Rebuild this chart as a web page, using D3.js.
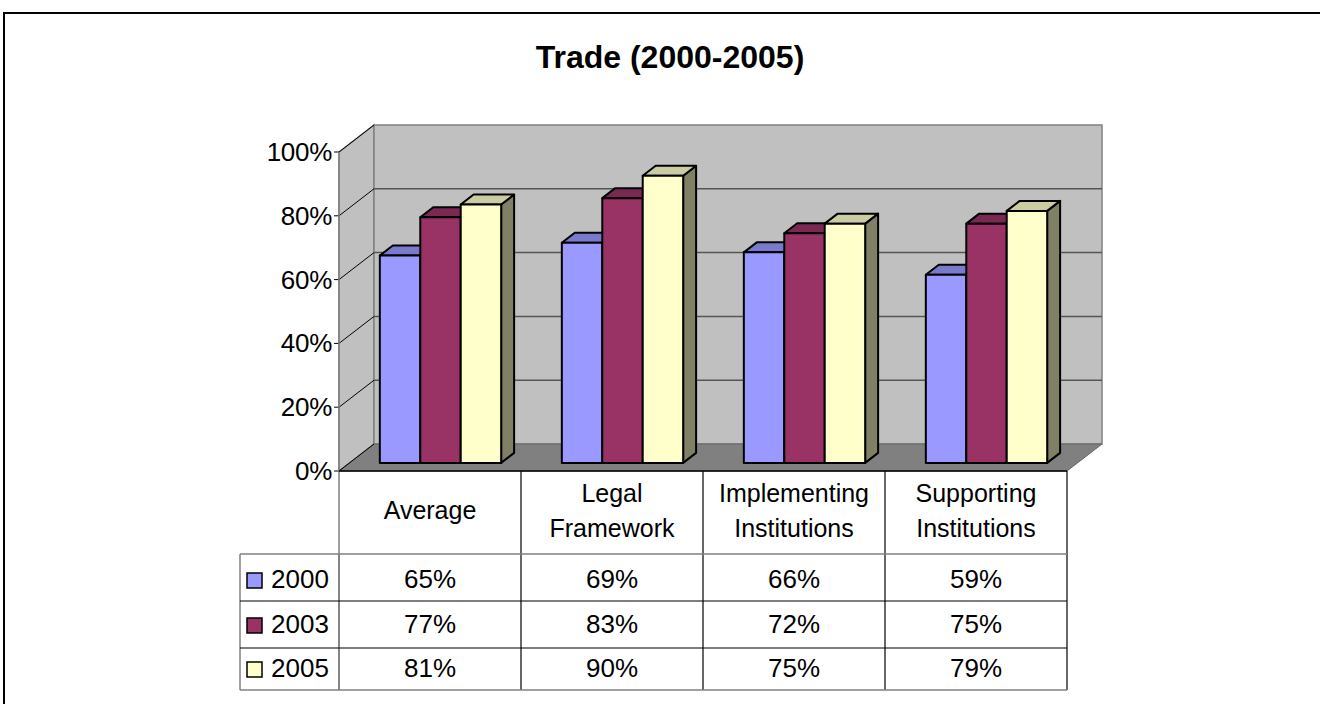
<!DOCTYPE html>
<html>
<head>
<meta charset="utf-8">
<script src="https://cdn.jsdelivr.net/npm/d3@7"></script>
<style>
  body { margin: 0; background: #fff; overflow: hidden; }
  svg text { font-family: Arial, "Liberation Sans", sans-serif; }
</style>
</head>
<body>
<div id="chart"></div>
<script>
// chart data
var categories = [["Average"], ["Legal", "Framework"], ["Implementing", "Institutions"], ["Supporting", "Institutions"]];
var series = ["2000", "2003", "2005"];
var values2000 = [0.65, 0.69, 0.66, 0.59];
var values2003 = [0.77, 0.83, 0.72, 0.75];
var values2005 = [0.81, 0.90, 0.75, 0.79];
var yTicks = [0, 0.2, 0.4, 0.6, 0.8, 1.0];
var colors = ["#9999ff", "#993366", "#ffffcc"];

var allValues = [values2000, values2003, values2005];

var w = 1320, h = 704;
var svg = d3.select("#chart").append("svg")
  .attr("width", w)
  .attr("height", h)
  .style("display", "block");

// outer chart border (right and bottom edges are off the picture)
svg.append("path")
  .attr("d", "M4,710 L4,13 L1330,13")
  .attr("fill", "none")
  .attr("stroke", "#000")
  .attr("stroke-width", 2);

svg.append("text")
  .attr("x", 670)
  .attr("y", 68)
  .attr("text-anchor", "middle")
  .attr("font-size", 32)
  .attr("font-weight", "bold")
  .text("Trade (2000-2005)");

var left = 339, right = 1067;
var depthX = 35, depthY = -27;   // offset of the back wall

var x = d3.scaleBand()
  .domain(d3.range(categories.length))
  .range([left, right]);

var xs = d3.scaleBand()
  .domain(series)
  .range([0, x.bandwidth()])
  .paddingOuter(0.75);

var y = d3.scaleLinear()
  .domain([0, 1])
  .range([471, 152]);

// project a front-plane point to depth d (0 = front, 1 = back wall)
function proj(px, py, d) {
  return [px + depthX * d, py + depthY * d];
}
function poly(pts) {
  return pts.map(function(p) { return p[0] + "," + p[1]; }).join(" ");
}

// walls and floor
svg.append("polygon")
  .attr("points", poly([proj(left, y(0), 0), proj(left, y(1), 0), proj(left, y(1), 1), proj(left, y(0), 1)]))
  .attr("fill", "#c0c0c0")
  .attr("stroke", "#808080")
  .attr("stroke-width", 1.5);

svg.append("polygon")
  .attr("points", poly([proj(left, y(1), 1), proj(right, y(1), 1), proj(right, y(0), 1), proj(left, y(0), 1)]))
  .attr("fill", "#c0c0c0")
  .attr("stroke", "#808080")
  .attr("stroke-width", 1.5);

svg.append("polygon")
  .attr("points", poly([proj(left, y(0), 0), proj(right, y(0), 0), proj(right, y(0), 1), proj(left, y(0), 1)]))
  .attr("fill", "#808080")
  .attr("stroke", "#666")
  .attr("stroke-width", 1);

// gridlines on the back wall and the side wall
yTicks.forEach(function(t) {
  if (t > 0 && t < 1) {
    var a = proj(left, y(t), 1), b = proj(right, y(t), 1);
    svg.append("line")
      .attr("x1", a[0]).attr("y1", a[1])
      .attr("x2", b[0]).attr("y2", b[1])
      .attr("stroke", "#555")
      .attr("stroke-width", 1.5);
  }
  var c = proj(left, y(t), 0), e = proj(left, y(t), 1);
  svg.append("line")
    .attr("x1", c[0]).attr("y1", c[1])
    .attr("x2", e[0]).attr("y2", e[1])
    .attr("stroke", "#000")
    .attr("stroke-width", 1);
  svg.append("line")
    .attr("x1", left - 5).attr("y1", y(t))
    .attr("x2", left).attr("y2", y(t))
    .attr("stroke", "#000")
    .attr("stroke-width", 1);
  svg.append("text")
    .attr("x", left - 7)
    .attr("y", y(t) + 9)
    .attr("text-anchor", "end")
    .attr("font-size", 26)
    .attr("letter-spacing", -0.3)
    .text(Math.round(t * 100) + "%");
});

// front axis line
svg.append("line")
  .attr("x1", left).attr("y1", y(1))
  .attr("x2", left).attr("y2", 554)
  .attr("stroke", "#808080")
  .attr("stroke-width", 1.5);

// bars
var d0 = 0.3, d1 = 0.67;
function shade(c, k) {
  var r = d3.rgb(c);
  return d3.rgb(r.r * k, r.g * k, r.b * k).formatHex();
}

categories.forEach(function(cat, i) {
  series.forEach(function(s, j) {
    var v = allValues[j][i];
    var x0 = x(i) + xs(s), x1 = x0 + xs.bandwidth();
    var yb = y(0), yt = y(v);
    var g = svg.append("g")
      .attr("stroke", "#000")
      .attr("stroke-width", 2)
      .attr("stroke-linejoin", "round");
    g.append("polygon")
      .attr("points", poly([proj(x1, yb, d0), proj(x1, yt, d0), proj(x1, yt, d1), proj(x1, yb, d1)]))
      .attr("fill", shade(colors[j], 0.5));
    g.append("polygon")
      .attr("points", poly([proj(x0, yt, d0), proj(x1, yt, d0), proj(x1, yt, d1), proj(x0, yt, d1)]))
      .attr("fill", shade(colors[j], 0.8));
    g.append("polygon")
      .attr("points", poly([proj(x0, yb, d0), proj(x1, yb, d0), proj(x1, yt, d0), proj(x0, yt, d0)]))
      .attr("fill", colors[j]);
  });
});

// data table
var headerTop = 471, rowTops = [554, 601, 648], tableBottom = 690;
var legendLeft = 240;

svg.append("line")
  .attr("x1", left).attr("y1", headerTop)
  .attr("x2", right).attr("y2", headerTop)
  .attr("stroke", "#000").attr("stroke-width", 1.5);

// header verticals
x.domain().forEach(function(i) {
  if (i > 0) {
    svg.append("line")
      .attr("x1", x(i)).attr("y1", headerTop)
      .attr("x2", x(i)).attr("y2", tableBottom)
      .attr("stroke", "#000").attr("stroke-width", 1.2);
  }
});
svg.append("line")
  .attr("x1", right).attr("y1", headerTop)
  .attr("x2", right).attr("y2", tableBottom)
  .attr("stroke", "#000").attr("stroke-width", 1.2);
svg.append("line")
  .attr("x1", left).attr("y1", 554)
  .attr("x2", left).attr("y2", tableBottom)
  .attr("stroke", "#333").attr("stroke-width", 1.2);
svg.append("line")
  .attr("x1", legendLeft).attr("y1", 554)
  .attr("x2", legendLeft).attr("y2", tableBottom)
  .attr("stroke", "#808080").attr("stroke-width", 1.5);

rowTops.concat([tableBottom]).forEach(function(ry, k) {
  svg.append("line")
    .attr("x1", legendLeft).attr("y1", ry)
    .attr("x2", right).attr("y2", ry)
    .attr("stroke", (k === 0 || k === 3) ? "#808080" : "#000")
    .attr("stroke-width", (k === 0 || k === 3) ? 1.5 : 1.2);
});

// category labels
categories.forEach(function(cat, i) {
  var cx = x(i) + x.bandwidth() / 2;
  var t = svg.append("text")
    .attr("text-anchor", "middle")
    .attr("font-size", 25);
  if (cat.length === 1) {
    t.append("tspan").attr("x", cx).attr("y", 519).text(cat[0]);
  } else {
    t.append("tspan").attr("x", cx).attr("y", 502).text(cat[0]);
    t.append("tspan").attr("x", cx).attr("y", 537).text(cat[1]);
  }
});

// value rows with legend keys
var rowBaselines = [588, 633, 677];
series.forEach(function(s, j) {
  var by = rowBaselines[j];
  svg.append("rect")
    .attr("x", 247).attr("y", by - 15)
    .attr("width", 15).attr("height", 15)
    .attr("fill", colors[j])
    .attr("stroke", "#000")
    .attr("stroke-width", 1.5);
  svg.append("text")
    .attr("x", 271).attr("y", by)
    .attr("font-size", 26)
    .text(s);
  allValues[j].forEach(function(v, i) {
    svg.append("text")
      .attr("x", x(i) + x.bandwidth() / 2)
      .attr("y", by)
      .attr("text-anchor", "middle")
      .attr("font-size", 26)
      .text(Math.round(v * 100) + "%");
  });
});
</script>
</body>
</html>
